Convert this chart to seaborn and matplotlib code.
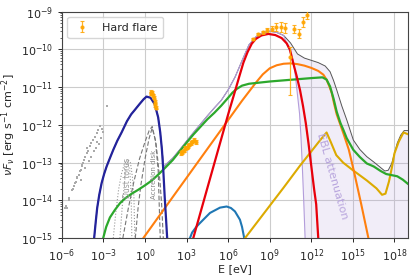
import numpy as np
import seaborn as sns
import matplotlib
matplotlib.use("Agg")
import matplotlib.pyplot as plt

# all values are log10(E / eV) and log10(nuFnu / erg s-1 cm-2)
sync_x = [-3.67, -3.55, -3.45, -3.3, -3.13, -2.95, -2.77, -2.5, -2.29, -2.0, -1.69, -1.3, -1.0, -0.73, -0.4, -0.1,
          0.11, 0.4, 0.7, 0.95, 1.1, 1.22, 1.32, 1.42, 1.52, 1.6]
sync_y = [-15.0, -14.55, -14.2, -13.85, -13.54, -13.3, -13.1, -12.85, -12.66, -12.42, -12.2, -11.9, -11.72, -11.6,
          -11.45, -11.32, -11.25, -11.28, -11.45, -11.8, -12.2, -12.65, -13.2, -13.9, -14.5, -15.0]

green_x = [-3.02, -2.8, -2.53, -2.17, -1.8, -1.45, -1.0, -0.5, 0.0, 0.5, 1.0, 1.44, 2.0, 2.5, 3.0, 3.5, 4.0, 4.5,
           5.0, 5.5, 6.0, 6.3, 6.6, 7.0, 7.5, 8.0, 9.0, 10.0, 11.0, 12.0, 12.8, 13.1, 13.35, 13.6, 13.83, 14.1,
           14.31, 14.55, 15.03, 15.5, 16.0, 16.5, 17.0, 17.4, 17.8, 18.2, 18.6, 19.0]
green_y = [-15.0, -14.7, -14.45, -14.25, -14.07, -13.95, -13.83, -13.72, -13.6, -13.47, -13.3, -13.14, -12.93,
           -12.7, -12.47, -12.25, -12.05, -11.85, -11.68, -11.49, -11.28, -11.15, -11.05, -10.96, -10.91, -10.89,
           -10.85, -10.82, -10.79, -10.76, -10.74, -10.8, -10.98, -11.3, -11.65, -11.95, -12.13, -12.35, -12.66,
           -12.85, -13.02, -13.1, -13.22, -13.3, -13.33, -13.36, -13.45, -13.57]

orange_x = [-0.13, 2.0, 4.0, 6.0, 7.0, 7.5, 8.0, 8.5, 9.0, 9.5, 10.0, 10.5, 11.0, 11.5, 12.0, 12.5, 12.87, 13.1,
            13.3, 13.47, 13.65, 13.83, 14.31, 14.7, 15.05, 15.6, 16.12]
orange_y = [-15.0, -13.91, -12.89, -11.87, -11.36, -11.12, -10.88, -10.66, -10.5, -10.42, -10.38, -10.37, -10.39,
            -10.43, -10.49, -10.57, -10.67, -10.8, -10.98, -11.15, -11.45, -11.72, -12.22, -12.65, -13.19, -14.1,
            -15.0]

red_x = [3.48, 4.5, 5.5, 6.0, 6.5, 6.8, 7.1, 7.4, 7.7, 8.0, 8.4, 8.9, 9.4, 9.86, 10.22, 10.46, 10.7, 10.95, 11.18,
         11.4, 11.6, 11.8, 12.0, 12.2, 12.35, 12.5]
red_y = [-15.0, -13.67, -12.37, -11.72, -11.1, -10.72, -10.35, -10.07, -9.85, -9.72, -9.63, -9.59, -9.62, -9.7,
         -9.84, -10.01, -10.37, -10.72, -11.07, -11.5, -11.95, -12.5, -13.1, -13.7, -14.1, -15.0]

lblue_x = [3.24, 3.4, 3.7, 3.96, 4.69, 5.41, 5.89, 6.2, 6.49, 6.85, 7.0, 7.16]
lblue_y = [-15.0, -14.85, -14.7, -14.6, -14.33, -14.19, -14.16, -14.2, -14.29, -14.51, -14.7, -15.0]

gold_x = [7.21, 8.0, 9.0, 10.0, 11.18, 12.0, 12.6, 13.1, 13.4, 13.8, 14.3, 15.0, 16.0, 16.7, 17.1, 17.35, 17.6,
          17.8, 18.0, 18.3, 18.65, 19.0]
gold_y = [-15.0, -14.62, -14.14, -13.66, -13.08, -12.7, -12.42, -12.2, -12.45, -12.8, -13.0, -13.2, -13.47, -13.68,
          -13.85, -13.82, -13.5, -13.15, -12.75, -12.45, -12.2, -12.25]

total_x = sync_x[:21] + [1.35, 2.0, 2.5, 3.0, 3.5, 4.0, 4.5, 5.0, 5.5, 6.0, 6.5, 7.0, 7.5, 8.0, 8.5, 9.0, 9.5, 10.0,
                         10.5, 11.0, 11.5, 12.0, 12.5, 13.0, 13.35, 13.6, 13.83, 14.2, 14.55, 15.03, 15.5, 16.0,
                         16.5, 16.9, 17.3, 17.55, 17.8, 18.0, 18.2, 18.45, 18.7, 19.0]
total_y = sync_y[:21] + [-13.1, -12.88, -12.66, -12.43, -12.2, -11.98, -11.76, -11.55, -11.35, -11.07, -10.73, -10.3,
                         -9.88, -9.67, -9.56, -9.52, -9.55, -9.63, -9.83, -10.12, -10.23, -10.29, -10.35, -10.44,
                         -10.59, -10.82, -11.07, -11.5, -11.86, -12.4, -12.65, -12.84, -12.98, -13.1, -13.22, -13.2,
                         -13.02, -12.75, -12.48, -12.27, -12.15, -12.15]

# EBL-absorbed total: follows the total up to ~10^10.5 eV, then drops
absorbed_x = total_x[:39] + [10.7, 10.85, 11.0, 11.15, 11.25, 11.35, 11.45, 11.55]
absorbed_y = total_y[:39] + [-10.3, -10.7, -11.2, -11.7, -12.3, -13.1, -14.0, -15.0]

dust_x = [-2.29, -2.1, -1.9, -1.7, -1.5, -1.26, -1.05, -0.9, -0.8, -0.73]
dust_y = [-15.0, -14.3, -13.7, -13.3, -13.05, -12.9, -13.0, -13.4, -13.9, -15.0]
dust2_x = [-1.81, -1.65, -1.5, -1.35, -1.26, -1.1, -1.0, -0.95]
dust2_y = [-15.0, -14.2, -13.6, -13.1, -12.98, -13.2, -13.8, -15.0]

disk_x = [-1.6, -1.2, -0.8, -0.4, 0.0, 0.3, 0.52, 0.8, 1.07, 1.2, 1.32]
disk_y = [-15.0, -14.2, -13.5, -12.9, -12.45, -12.15, -12.04, -12.5, -13.45, -14.1, -15.0]
disk2_x = [-0.7, -0.5, -0.3, 0.0, 0.3, 0.52, 0.75, 0.95, 1.1]
disk2_y = [-15.0, -14.2, -13.6, -12.9, -12.35, -12.08, -12.4, -13.2, -15.0]

# archival radio/IR points (grey)
arch_x = [-5.78, -5.71, -5.62, -5.5, -5.47, -5.3, -5.23, -5.13, -5.06, -4.99, -4.94, -4.87, -4.77, -4.7, -4.63,
          -4.58, -4.51, -4.46, -4.41, -4.34, -4.22, -4.1, -3.98, -3.86, -3.74, -3.62, -3.49, -3.38, -3.26, -3.13,
          -3.02, -4.65, -4.3, -4.05, -3.9, -3.55, -3.2, -3.45, -3.7, -2.77, -4.15, -3.3]
arch_y = [-14.2, -14.16, -14.2, -13.94, -13.98, -13.72, -13.7, -13.63, -13.54, -13.5, -13.41, -13.38, -13.32,
          -13.23, -13.2, -13.1, -13.05, -13.01, -12.92, -12.84, -12.75, -12.7, -12.57, -12.48, -12.39, -12.31,
          -12.22, -12.13, -12.04, -12.1, -12.2, -13.45, -13.15, -12.95, -12.85, -12.6, -12.35, -12.45, -12.7,
          -11.49, -12.6, -12.5]

# hard flare data
opt_x = [0.4, 0.45, 0.52, 0.58, 0.63, 0.7, 0.75, 0.8]
opt_y = [-11.12, -11.18, -11.15, -11.22, -11.28, -11.38, -11.48, -11.55]
xray_x = [2.6, 2.7, 2.8, 2.9, 3.0, 3.1, 3.2, 3.3, 3.4, 3.5, 3.7]
xray_y = [-12.75, -12.72, -12.68, -12.62, -12.6, -12.55, -12.52, -12.48, -12.44, -12.4, -12.45]
gam_x = [7.8, 8.13, 8.5, 8.82, 9.14, 9.48, 9.8, 10.13, 10.43, 10.78, 11.1, 11.42, 11.72]
gam_y = [-9.73, -9.6, -9.54, -9.48, -9.45, -9.41, -9.41, -9.44, -10.2, -9.46, -9.58, -9.27, -9.08]
gam_lo = [0.03, 0.03, 0.04, 0.05, 0.06, 0.1, 0.13, 0.12, 1.0, 0.11, 0.13, 0.14, 0.12]
gam_hi = [0.03, 0.03, 0.04, 0.05, 0.06, 0.1, 0.13, 0.15, 0.27, 0.11, 0.13, 0.14, 0.12]

sns.set_style("ticks")
plt.rcParams["font.family"] = ["DejaVu Sans"]
fig, ax = plt.subplots(figsize=(4.15, 2.77), dpi=100)
fig.subplots_adjust(left=0.149, right=0.984, bottom=0.14, top=0.958)


def p(v):
    return 10.0 ** np.asarray(v)


def curve(xs, ys, **kw):
    sns.lineplot(x=p(xs), y=p(ys), ax=ax, sort=False, estimator=None, legend=False, **kw)


# EBL attenuation band: between the total and the absorbed total, down to the axis floor
poly_x = list(total_x[38:]) + [19.2, 19.2, 11.6] + list(absorbed_x[38:])[::-1]
poly_y = list(total_y[38:]) + [total_y[-1], -16, -16] + list(absorbed_y[38:])[::-1]
ax.fill(p(poly_x), p(poly_y), color="#b39ddb", alpha=0.18, lw=0, zorder=1)

curve(total_x, total_y, color="#555555", lw=0.7, zorder=2)
curve(absorbed_x, absorbed_y, color="#b39ddb", lw=0.8, zorder=2)

curve(dust_x, dust_y, color="#999999", lw=0.8, ls=":", zorder=2)
curve(dust2_x, dust2_y, color="#999999", lw=0.8, ls=":", zorder=2)
curve(disk_x, disk_y, color="#777777", lw=0.8, ls=(0, (4, 2)), zorder=2)
curve(disk2_x, disk2_y, color="#777777", lw=0.8, ls=(0, (4, 2)), zorder=2)

curve(lblue_x, lblue_y, color="#1f77b4", lw=1.5, zorder=3)
curve(gold_x, gold_y, color="#dcaa00", lw=1.5, zorder=3)
curve(orange_x, orange_y, color="#ff7f0e", lw=1.5, zorder=3)
curve(green_x, green_y, color="#2ca82c", lw=1.6, zorder=3)
curve(red_x, red_y, color="#e8000b", lw=1.6, zorder=4)
curve(sync_x, sync_y, color="#23239b", lw=1.6, zorder=4)

ax.scatter(p(arch_x), p(arch_y), s=1.5, marker="s", color="#aaaaaa", lw=0, zorder=3)

ax.text(p(-1.26), p(-13.4), "Dust torus", rotation=90, fontsize=5.5, color="#999999", ha="center", va="center")
ax.text(p(0.66), p(-13.3), "Accretion disk", rotation=90, fontsize=5, color="#888888", ha="center", va="center")
ax.text(p(13.5), p(-13.35), "EBL attenuation", rotation=-74, fontsize=8, color="#b8a5dd", ha="center",
        va="center")

fx = opt_x + xray_x + gam_x
fy = opt_y + xray_y + gam_y
flo = [0.04] * len(opt_x) + [0.05] * len(xray_x) + gam_lo
fhi = [0.04] * len(opt_x) + [0.05] * len(xray_x) + gam_hi
yv = p(fy)
yerr = [yv - p(np.array(fy) - np.array(flo)), p(np.array(fy) + np.array(fhi)) - yv]
ax.errorbar(p(fx), yv, yerr=yerr, fmt="o", ms=2, color="orange", ecolor="orange", elinewidth=0.9, capsize=1.5,
            capthick=0.8, alpha=0.85, zorder=5, label="Hard flare")

ax.set_xscale("log")
ax.set_yscale("log")
ax.set_xlim(1e-6, 1e19)
ax.set_ylim(1e-15, 1e-9)
ax.set_xticks([10.0 ** k for k in range(-6, 19, 3)])
ax.xaxis.set_minor_locator(matplotlib.ticker.NullLocator())
ax.grid(True, which="major", color="#cccccc", lw=0.8)
ax.tick_params(labelsize=8, length=3, width=0.7)
ax.tick_params(which="minor", length=1.5, width=0.5)
for s in ax.spines.values():
    s.set_linewidth(0.8)
    s.set_color("#444444")
ax.set_xlabel("E [eV]", fontsize=8, labelpad=0)
ax.set_ylabel(r"$\nu F_\nu$ [erg s$^{-1}$ cm$^{-2}$]", fontsize=8, labelpad=2)
ax.legend(loc="upper left", fontsize=8, frameon=True, handlelength=1.6, handletextpad=1.0, borderpad=0.5)

fig.savefig("out.png", dpi=100)
